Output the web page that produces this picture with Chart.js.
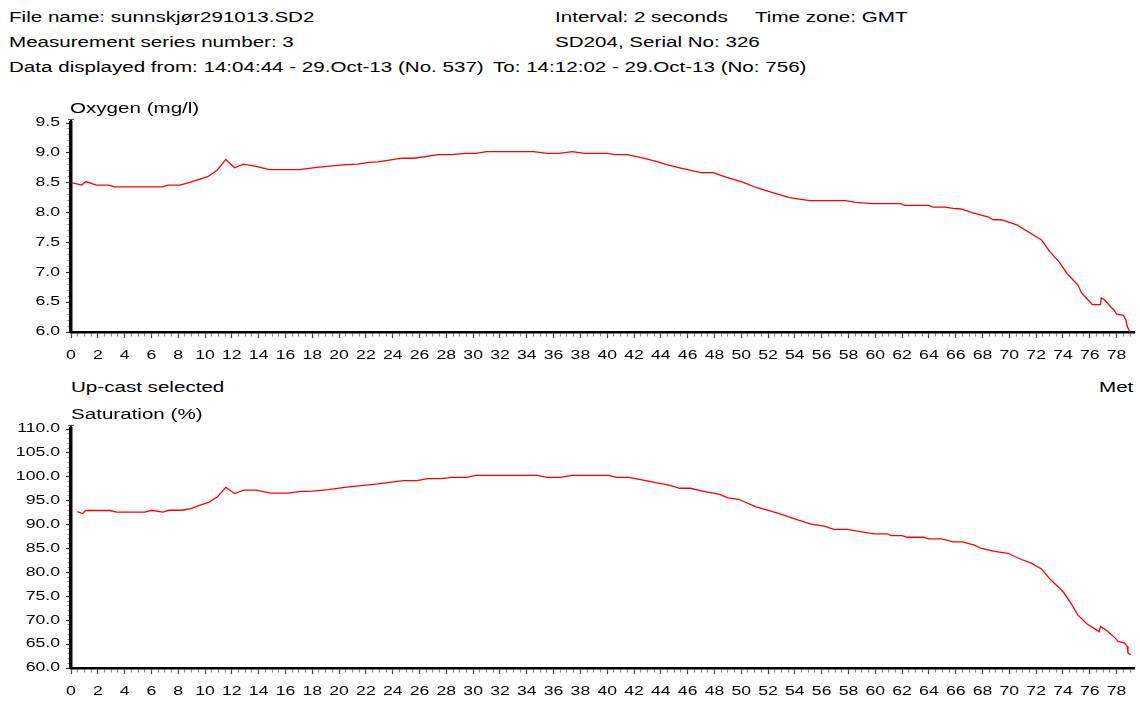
<!DOCTYPE html>
<html>
<head>
<meta charset="utf-8">
<script src="https://cdn.jsdelivr.net/npm/chart.js@4.4.1/dist/chart.umd.min.js"></script>
<style>
  html, body { margin: 0; padding: 0; background: #fff; }
  body { width: 1140px; height: 702px; overflow: hidden; position: relative;
         font-family: "Liberation Sans", Arial, sans-serif; color: #000; }
  .t { position: absolute; font-size: 14px; line-height: 16px; white-space: nowrap;
       transform: scaleX(1.47); transform-origin: 0 0; z-index: 5; }
  canvas { position: absolute; left: 0; }
</style>
</head>
<body>
<div class="t" style="left:9px;top:9px">File name: sunnskjør291013.SD2</div>
<div class="t" style="left:555px;top:9px">Interval: 2 seconds</div>
<div class="t" style="left:755px;top:9px">Time zone: GMT</div>
<div class="t" style="left:9px;top:34px">Measurement series number: 3</div>
<div class="t" style="left:555px;top:34px">SD204, Serial No: 326</div>
<div class="t" style="left:9px;top:59px">Data displayed from: 14:04:44 - 29.Oct-13 (No. 537)</div>
<div class="t" style="left:493px;top:59px">To: 14:12:02 - 29.Oct-13 (No: 756)</div>
<div class="t" style="left:70px;top:100px">Oxygen (mg/l)</div>
<div class="t" style="left:71px;top:379px">Up-cast selected</div>
<div class="t" style="left:1099px;top:379px">Met</div>
<div class="t" style="left:71px;top:406px">Saturation (%)</div>

<canvas id="c1" width="1140" height="270" style="top:100px"></canvas>
<canvas id="c2" width="1140" height="300" style="top:400px"></canvas>

<script>
// ---------- data ----------
const xMajorTicks = [0,2,4,6,8,10,12,14,16,18,20,22,24,26,28,30,32,34,36,38,40,42,44,46,48,50,52,54,56,58,60,62,64,66,68,70,72,74,76,78];
const oxyTicks = [6.0,6.5,7.0,7.5,8.0,8.5,9.0,9.5];
const satTicks = [60,65,70,75,80,85,90,95,100,105,110];

const oxyDepth = [0.05,0.8,1.1,1.9,2.77,3.26,6.85,7.2,8.1,8.8,10.2,10.9,11.55,12.2,12.86,13.9,14.76,17,18.5,20.3,
  21.4,22.2,22.9,24.7,25.6,27.4,28.4,29.4,30.2,31,34.5,35.5,36.4,37.4,38.3,40,40.6,41.5,42.7,43.8,
  44.3,45.4,47,47.9,48.9,50.1,51.1,52.1,53.6,55.1,57.8,58.5,59.8,61.9,62.2,64,64.3,65.2,65.8,66.4,
  67.2,68.4,68.8,69.4,70.6,71.6,72.4,73,73.7,74.3,75.1,75.4,76.2,76.8,76.85,77.1,77.6,77.8,78,78.5,
  78.7,78.8,79];
const oxyValues = [8.50,8.46,8.52,8.46,8.46,8.43,8.43,8.46,8.46,8.50,8.60,8.71,8.89,8.75,8.81,8.77,8.72,8.72,8.76,8.80,
  8.81,8.84,8.85,8.91,8.91,8.97,8.97,8.99,8.99,9.02,9.02,8.99,8.99,9.02,8.99,8.99,8.97,8.97,8.91,8.85,
  8.81,8.75,8.67,8.67,8.59,8.51,8.42,8.35,8.25,8.20,8.20,8.17,8.15,8.15,8.12,8.12,8.09,8.09,8.07,8.06,
  8.00,7.93,7.88,7.88,7.79,7.65,7.54,7.35,7.18,6.98,6.79,6.65,6.46,6.46,6.57,6.54,6.41,6.37,6.30,6.28,
  6.20,6.09,6.00];

const satDepth = [0.47,0.86,1.1,2.9,3.4,5.5,6.0,6.85,7.3,8.3,8.95,9.57,10.3,10.9,11.55,12.2,12.9,13.8,14.9,16.2,
  17,18,19.2,20.7,22.2,22.9,24.8,25.8,26.6,27.6,28.4,29.5,30.2,34.8,35.5,36.5,37.4,40.1,40.7,41.6,
  42.5,43.7,44.7,45.4,46.2,47.1,48.4,49,49.8,51.1,52.6,54.1,55.2,56.2,56.9,57.9,59,59.9,60.9,61.2,
  62,62.4,63.6,64,64.97,65.8,66.5,67.4,67.9,68.9,69.9,70.9,71.6,72.4,73.1,74,74.6,75.1,75.8,76.7,
  76.8,77.3,77.9,78.1,78.6,78.8,78.85,79.05];
const satValues = [92.7,92.3,92.95,92.95,92.6,92.6,93.0,92.6,93.0,93.0,93.35,94.0,94.7,95.75,97.8,96.5,97.2,97.2,96.6,96.6,
  96.9,97.0,97.3,97.9,98.3,98.5,99.2,99.2,99.6,99.6,99.9,99.9,100.3,100.3,99.9,99.9,100.3,100.3,99.9,99.9,
  99.4,98.75,98.2,97.6,97.6,97.0,96.3,95.6,95.3,93.7,92.5,91.1,90.1,89.7,89.0,89.0,88.5,88.06,88.06,87.7,
  87.7,87.35,87.35,87.0,87.0,86.4,86.4,85.7,85.0,84.4,84.0,82.7,82.0,80.7,78.4,76.0,73.5,71.1,69.2,67.6,
  68.7,67.75,66.25,65.55,65.2,64.5,63.1,62.8];

// ---------- rendering ----------
const SX = 1.47; // horizontal text stretch of the reference
const FONT = { family: '"Liberation Sans", Arial, sans-serif', size: 12 };

function stretchText(ctx) {
  const base = CanvasRenderingContext2D.prototype.fillText;
  ctx.fillText = function (text, x, y) {
    this.save();
    this.translate(x, y);
    this.scale(SX, 1);
    base.call(this, text, 0, 0);
    this.restore();
  };
}

function isMajor(v, list) { return list.some(m => Math.abs(m - v) < 1e-6); }

// small cap mark where the y axis line ends above its top tick
const axisCap = {
  id: 'axisCap',
  afterDraw(chart) {
    const { ctx, chartArea } = chart;
    ctx.save();
    ctx.strokeStyle = '#000';
    ctx.lineWidth = 2;
    ctx.beginPath();
    ctx.moveTo(chartArea.left, chartArea.top);
    ctx.lineTo(chartArea.left, chartArea.top - 4);
    ctx.stroke();
    ctx.lineWidth = 1;
    ctx.strokeStyle = '#555';
    ctx.beginPath();
    ctx.moveTo(chartArea.left - 3, chartArea.top - 3.5);
    ctx.lineTo(chartArea.left + 3, chartArea.top - 3.5);
    ctx.stroke();
    ctx.restore();
  }
};

function makeChart(id, depth, values, yTicks, yMinor, padTop, xHeight) {
  const ctx = document.getElementById(id).getContext('2d');
  stretchText(ctx);
  const yMin = yTicks[0], yMax = yTicks[yTicks.length - 1];
  return new Chart(ctx, {
    type: 'line',
    data: {
      datasets: [{
        data: depth.map((d, i) => ({ x: d, y: values[i] })),
        borderColor: '#ff0000',
        borderWidth: 1.3,
        pointRadius: 0,
        tension: 0,
        fill: false
      }]
    },
    plugins: [axisCap],
    options: {
      responsive: false,
      animation: false,
      events: [],
      layout: { padding: { top: padTop, left: 0, right: 0, bottom: 0 } },
      plugins: { legend: { display: false }, tooltip: { enabled: false } },
      scales: {
        x: {
          type: 'linear', min: 0, max: 79.3,
          afterBuildTicks: (s) => {
            const t = [];
            for (let i = 0; i <= 158; i++) t.push({ value: i * 0.5 });
            s.ticks = t;
          },
          afterFit: (s) => { s.height = xHeight; },
          ticks: {
            autoSkip: false, maxRotation: 0, padding: 10, color: '#000', font: FONT,
            callback: (v) => isMajor(v, xMajorTicks) ? String(v) : ''
          },
          grid: {
            drawOnChartArea: false, drawTicks: true, tickLength: 6,
            tickWidth: 1.2,
            tickColor: (c) => isMajor(c.tick.value, xMajorTicks) ? '#444' : '#888',
            tickBorderDash: (c) => isMajor(c.tick.value, xMajorTicks) ? [] : [3, 100]
          },
          border: { display: true, color: '#000', width: 2.5 }
        },
        y: {
          type: 'linear', min: yMin, max: yMax,
          afterBuildTicks: (s) => {
            const t = [];
            const n = Math.round((yMax - yMin) / yMinor);
            for (let i = 0; i <= n; i++) t.push({ value: +(yMin + i * yMinor).toFixed(4) });
            s.ticks = t;
          },
          afterFit: (s) => { s.width = 71; },
          ticks: {
            autoSkip: false, padding: 6, color: '#000', font: FONT,
            callback: (v) => isMajor(v, yTicks) ? Number(v).toFixed(1) : ''
          },
          grid: {
            drawOnChartArea: false, drawTicks: true, tickLength: 5,
            tickWidth: 1.2,
            tickColor: (c) => isMajor(c.tick.value, yTicks) ? '#333' : '#888',
            tickBorderDash: (c) => isMajor(c.tick.value, yTicks) ? [] : [0, 1.5, 10, 0]
          },
          border: { display: true, color: '#000', width: 3.5 }
        }
      }
    }
  });
}

makeChart('c1', oxyDepth, oxyValues, oxyTicks, 0.1, 23, 38);
makeChart('c2', satDepth, satValues, satTicks, 1, 29, 32);
</script>
</body>
</html>
